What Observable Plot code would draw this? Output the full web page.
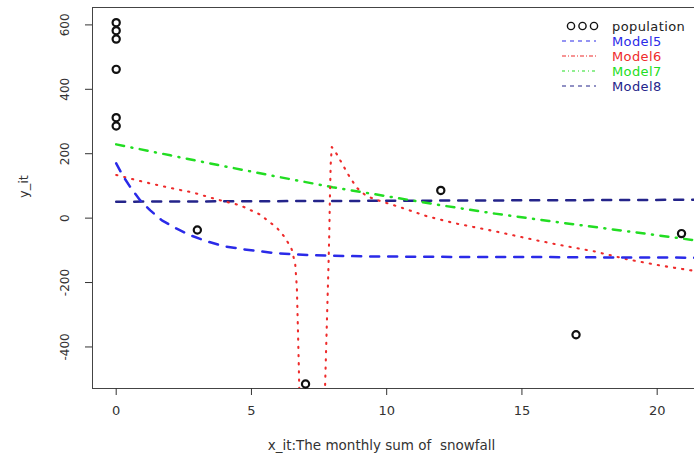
<!DOCTYPE html>
<html><head><meta charset="utf-8">
<script src="https://cdn.jsdelivr.net/npm/d3@7"></script>
<script src="https://cdn.jsdelivr.net/npm/@observablehq/plot@0.6"></script>
<style>body{margin:0;background:#fff;} svg{display:block;}</style>
</head><body><div id="chart"></div>
<script>
// Observed data (population)
const popX = [0, 0, 0, 0, 0, 0, 3, 7, 12, 17, 20.9];
const popY = [607, 582, 556, 462, 312, 286, -37, -515, 86, -362, -48];

// Model5 (blue dashed)
const m5X = [0, 0.25, 0.58, 0.89, 1.26, 1.69, 2.22, 2.73, 3.35, 3.97, 4.7, 5.81, 6.68, 7.17, 9.26, 11.7, 13.8, 16, 18, 20, 21.4];
const m5Y = [170, 131, 89, 55, 24, -7, -32, -53, -72, -87, -97, -108, -113, -115, -119, -120, -121, -121, -122, -122, -123];

// Model6 (red dotted) – left and right branches around the pole
const m6aX = [0, 0.89, 1.87, 2.86, 3.72, 4.58, 5.32, 5.94, 6.25, 6.49, 6.62, 6.68, 6.72, 6.75, 6.79];
const m6aY = [134, 115, 96, 79, 58, 40, 11, -30, -61, -97, -144, -217, -350, -455, -620];
const m6bX = [7.69, 7.78, 7.85, 7.88, 7.9, 7.93, 7.97, 8.16, 8.4, 8.65, 8.9, 9.26, 9.76, 10.5, 11.48, 12.47, 13.95, 15.2, 16.43, 17.66, 18.9, 20.1, 21.4];
const m6bY = [-620, -351, -144, -40, 60, 167, 221, 198, 162, 125, 94, 68, 53, 34, 6, -15, -40, -63, -84, -103, -128, -147, -164];

// Model7 (green dot-dash)
const m7X = [0, 2, 4, 6, 8, 10, 12, 14, 16, 18, 20, 21.4];
const m7Y = [229, 195, 161, 128, 96, 68, 40, 14, -9, -31, -53, -69];

// Model8 (dark blue dashed)
const m8X = [0, 7, 14, 21.4];
const m8Y = [51, 53, 55, 57];

const xTicks = [0, 5, 10, 15, 20];
const yTicks = [-400, -200, 0, 200, 400, 600];
const legendLabels = ["population", "Model5", "Model6", "Model7", "Model8"];
const legendColors = ["#222222", "#2a2ae8", "#ee2b2b", "#22dd22", "#24248a"];

const xDomain = [-0.876, 21.38];
const yDomain = [-529, 654];

const zipXY = (xs, ys) => xs.map((x, i) => ({x, y: ys[i]}));
const pop = zipXY(popX, popY);
const m5 = zipXY(m5X, m5Y);
const m6a = zipXY(m6aX, m6aY);
const m6b = zipXY(m6bX, m6bY);
const m7 = zipXY(m7X, m7Y);
const m8 = zipXY(m8X, m8Y);

const chart = Plot.plot({
  width: 694, height: 459,
  marginLeft: 92, marginRight: 0, marginTop: 7, marginBottom: 71,
  x: {domain: xDomain},
  y: {domain: yDomain},
  style: {fontFamily: "DejaVu Sans, Liberation Sans, sans-serif", background: "white", overflow: "visible"},
  marks: [
    Plot.ruleX([xDomain[0]], {stroke: "#444", strokeWidth: 1}),
    Plot.ruleY(yDomain, {stroke: "#444", strokeWidth: 1}),
    Plot.axisX({ticks: xTicks, tickSize: 7, tickPadding: 10, fontSize: 13, label: null, color: "#333", tickFormat: d => String(d)}),
    Plot.axisY({ticks: yTicks, tickSize: 7, tickPadding: 17, tickRotate: -90, fontSize: 12, label: null, color: "#333", tickFormat: d => String(d)}),
    Plot.text(["y_it"], {frameAnchor: "left", dx: -69, rotate: -90, fontSize: 13, fill: "#333"}),
    Plot.text(["x_it:The monthly sum of \u00a0snowfall"], {frameAnchor: "bottom", dy: 61, dx: -12, fontSize: 13.5, fill: "#333"}),
    Plot.line(m8, {x: "x", y: "y", stroke: legendColors[4], strokeWidth: 2.5, strokeDasharray: "9 9", clip: true}),
    Plot.line(m7, {x: "x", y: "y", stroke: legendColors[3], strokeWidth: 2.5, strokeDasharray: "8 7.5 1 7.5", strokeLinecap: "round", clip: true}),
    Plot.line(m6a, {x: "x", y: "y", stroke: legendColors[2], strokeWidth: 2.1, strokeDasharray: "1.2 7", strokeLinecap: "round", clip: true}),
    Plot.line(m6b, {x: "x", y: "y", stroke: legendColors[2], strokeWidth: 2.1, strokeDasharray: "1.2 7", strokeLinecap: "round", clip: true}),
    Plot.line(m5, {x: "x", y: "y", stroke: legendColors[1], strokeWidth: 2.5, strokeDasharray: "9 9", clip: true}),
    Plot.dot(pop, {x: "x", y: "y", r: 3.6, stroke: "#111", strokeWidth: 2.2, fill: "none"})
  ]
});

// Legend (top-right, no box)
const svg = d3.select(chart);
const lg = svg.append("g").attr("font-family", "DejaVu Sans, sans-serif").attr("font-size", 13).attr("text-anchor", "start");
const rowY = [26, 41, 56, 71, 86];
const dashes = [null, "4 4", "4 2 1 2", "3 3 1 3", "4 4"];
legendLabels.forEach((lab, i) => {
  const y = rowY[i];
  if (i === 0) {
    [571, 582.5, 594].forEach(cx => lg.append("circle").attr("cx", cx).attr("cy", y).attr("r", 3.6)
      .attr("fill", "none").attr("stroke", "#111").attr("stroke-width", 1.4));
  } else {
    lg.append("line").attr("x1", 562).attr("x2", 596).attr("y1", y).attr("y2", y)
      .attr("stroke", legendColors[i]).attr("stroke-width", 1.1).attr("stroke-dasharray", dashes[i]);
  }
  lg.append("text").attr("x", 612).attr("y", y).attr("dy", "0.36em").attr("text-anchor", "start")
    .attr("letter-spacing", "0.4").attr("fill", legendColors[i]).text(lab);
});

document.getElementById("chart").appendChild(chart);
</script>
</body></html>
